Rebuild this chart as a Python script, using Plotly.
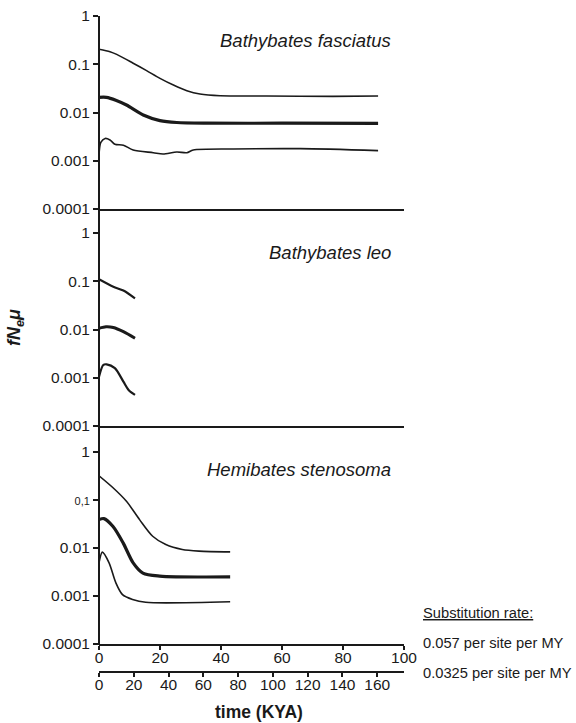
import plotly.graph_objects as go

W, H = 576, 723

# ---------------- data ----------------
# Bathybates fasciatus
fas_x_up = [0, 3.6, 5.8, 11.2, 15.6, 20, 24.4, 28.8, 33.1, 39.7, 55, 76.7, 91.5]
fas_y_up = [0.204, 0.182, 0.160, 0.105, 0.0736, 0.051, 0.037, 0.0283, 0.0242, 0.0223, 0.022, 0.0216, 0.0219]
fas_x_mid = [0, 2.4, 5.5, 9, 14.5, 20, 25.5, 35, 60, 91.5]
fas_y_mid = [0.0206, 0.0206, 0.018, 0.0143, 0.0089, 0.0068, 0.0062, 0.006, 0.006, 0.00597]
fas_x_low = [0, 0.6, 2.0, 3.6, 5.2, 8, 11.2, 17.8, 21, 25.5, 28.8, 30.9, 44, 66, 91.5]
fas_y_low = [0.0013, 0.0024, 0.0029, 0.0027, 0.0022, 0.0021, 0.00167, 0.00147, 0.00138, 0.00152, 0.00147, 0.00167, 0.00175, 0.00178, 0.00162]

# Bathybates leo
leo_x_up = [0, 4.7, 8, 11.8]
leo_y_up = [0.11, 0.077, 0.064, 0.044]
leo_x_mid = [0, 2.3, 4.7, 8, 11.8]
leo_y_mid = [0.0106, 0.0114, 0.011, 0.009, 0.0066]
leo_x_low = [0, 1.4, 2.5, 5.2, 8, 9.7, 11.8]
leo_y_low = [0.00105, 0.00184, 0.0019, 0.00158, 0.00083, 0.00056, 0.00044]

# Hemibates stenosoma
hem_x_up = [0, 4.6, 9, 13.3, 17.6, 21.9, 27.3, 32.8, 43]
hem_y_up = [0.32, 0.18, 0.094, 0.039, 0.0176, 0.0118, 0.0093, 0.0086, 0.0083]
hem_x_mid = [0, 1.6, 4.6, 7.9, 11.2, 14.4, 19.9, 43]
hem_y_mid = [0.039, 0.041, 0.028, 0.0128, 0.0049, 0.003, 0.0026, 0.0025]
hem_x_low = [0, 1.1, 3.3, 5.5, 7.7, 11, 15.3, 43]
hem_y_low = [0.0049, 0.0082, 0.0049, 0.0019, 0.00107, 0.00085, 0.00074, 0.00076]

species = ["Bathybates fasciatus", "Bathybates leo", "Hemibates stenosoma"]
ytick_vals = [1e-4, 1e-3, 1e-2, 1e-1, 1]
ytick_text = ["0.0001", "0.001", "0.01", "0.1", "1"]
ytick_text_bottom = ["0.0001", "0.001", "0.01", "<span style='font-size:11px'>0,1</span>", "1"]
x1_ticks = [0, 20, 40, 60, 80, 100]
x2_ticks = [0, 20, 40, 60, 80, 100, 120, 140, 160]
x1_range = [0, 100]
x2_range = [0, 100 * 0.057 / 0.0325]
rate_title = "Substitution rate:"
rate_labels = ["0.057 per site per MY", "0.0325 per site per MY"]

# ---------------- figure ----------------
FONT = "Arial, Liberation Sans, sans-serif"
INK = "#1a1a1a"

def px_x(p):
    return p / W

def px_y(p):
    return 1 - p / H

fig = go.Figure()

panels = [
    ("x", "y", [(fas_x_up, fas_y_up, 1.6), (fas_x_mid, fas_y_mid, 3.2), (fas_x_low, fas_y_low, 1.6)]),
    ("x2", "y2", [(leo_x_up, leo_y_up, 2.2), (leo_x_mid, leo_y_mid, 3.0), (leo_x_low, leo_y_low, 2.2)]),
    ("x3", "y3", [(hem_x_up, hem_y_up, 1.6), (hem_x_mid, hem_y_mid, 3.2), (hem_x_low, hem_y_low, 1.6)]),
]
for xa, ya, series in panels:
    for xs, ys, w in series:
        fig.add_trace(go.Scatter(x=xs, y=ys, xaxis=xa, yaxis=ya, mode="lines",
                                 line=dict(color=INK, width=w, shape="spline", smoothing=0.8),
                                 showlegend=False, hoverinfo="skip"))

# empty trace so that the second (0.0325 rate) time axis is created
fig.add_trace(go.Scatter(x=x2_ticks, y=[None] * len(x2_ticks), xaxis="x4", yaxis="y3",
                         mode="lines", showlegend=False, hoverinfo="skip"))

xdom = [px_x(99), px_x(404)]
ydoms = [
    [px_y(209), px_y(16)],
    [px_y(426), px_y(233)],
    [px_y(644), px_y(452)],
]

tickfont = dict(family=FONT, size=15.5, color=INK)

def yax(dom, anchor, text):
    return dict(domain=dom, anchor=anchor, type="log", range=[-4, 0],
                tickvals=ytick_vals, ticktext=text, ticks="outside", ticklen=5,
                tickwidth=1.5, tickcolor=INK, showline=False, showgrid=False,
                zeroline=False, tickfont=tickfont, automargin=False)

def xax_plain(anchor):
    return dict(domain=xdom, anchor=anchor, range=x1_range, showline=True,
                linecolor=INK, linewidth=1.6, ticks="", showticklabels=False,
                showgrid=False, zeroline=False, automargin=False)

fig.update_layout(
    width=W, height=H,
    margin=dict(l=0, r=0, t=0, b=0, autoexpand=False),
    paper_bgcolor="white", plot_bgcolor="white",
    xaxis=xax_plain("y"),
    xaxis2=xax_plain("y2"),
    xaxis3=dict(domain=xdom, anchor="y3", range=x1_range, showline=True,
                linecolor=INK, linewidth=1.6, ticks="outside", ticklen=4,
                tickwidth=1.5, tickcolor=INK, tickvals=x1_ticks,
                showgrid=False, zeroline=False, tickfont=tickfont, automargin=False,
                ticklabelstandoff=-5),
    xaxis4=dict(overlaying="x3", anchor="free", position=px_y(672), side="bottom",
                domain=xdom, range=x2_range, showline=True, linecolor=INK, linewidth=1.6,
                ticks="outside", ticklen=4, tickwidth=1.5, tickcolor=INK,
                tickvals=x2_ticks, showgrid=False, zeroline=False, tickfont=tickfont,
                automargin=False, ticklabelstandoff=-5),
    yaxis=yax(ydoms[0], "x", ytick_text),
    yaxis2=yax(ydoms[1], "x2", ytick_text),
    yaxis3=yax(ydoms[2], "x3", ytick_text_bottom),
)

# continuous vertical axis line
fig.add_shape(type="line", xref="paper", yref="paper",
              x0=px_x(99), x1=px_x(99), y0=px_y(645), y1=px_y(16),
              line=dict(color=INK, width=2))

# species labels
for name, py in zip(species, [40, 253, 469]):
    fig.add_annotation(xref="paper", yref="paper", x=px_x(393), y=px_y(py),
                       xanchor="right", yanchor="middle", showarrow=False,
                       text=f"<i>{name}</i>",
                       font=dict(family=FONT, size=18.5, color=INK))

# y title
fig.add_annotation(xref="paper", yref="paper", x=px_x(16), y=px_y(328),
                   xanchor="center", yanchor="middle", showarrow=False, textangle=-90,
                   text="<b><i>fN<sub>e</sub>\u03bc</i></b>",
                   font=dict(family=FONT, size=18, color=INK))

# x title
fig.add_annotation(xref="paper", yref="paper", x=px_x(259), y=px_y(712),
                   xanchor="center", yanchor="middle", showarrow=False,
                   text="<b>time (KYA)</b>",
                   font=dict(family=FONT, size=17.5, color=INK))

# substitution rate texts
fig.add_annotation(xref="paper", yref="paper", x=px_x(421), y=px_y(613),
                   xanchor="left", yanchor="middle", showarrow=False,
                   text=f"<u>{rate_title}</u>",
                   font=dict(family=FONT, size=14.7, color=INK))
for lab, py in zip(rate_labels, [643, 673]):
    fig.add_annotation(xref="paper", yref="paper", x=px_x(421), y=px_y(py),
                       xanchor="left", yanchor="middle", showarrow=False,
                       text=lab, font=dict(family=FONT, size=14.7, color=INK))

fig.write_html("out.html", config={"responsive": False, "displayModeBar": False},
               post_script="document.body.style.margin='0px';document.body.style.overflow='hidden';")
